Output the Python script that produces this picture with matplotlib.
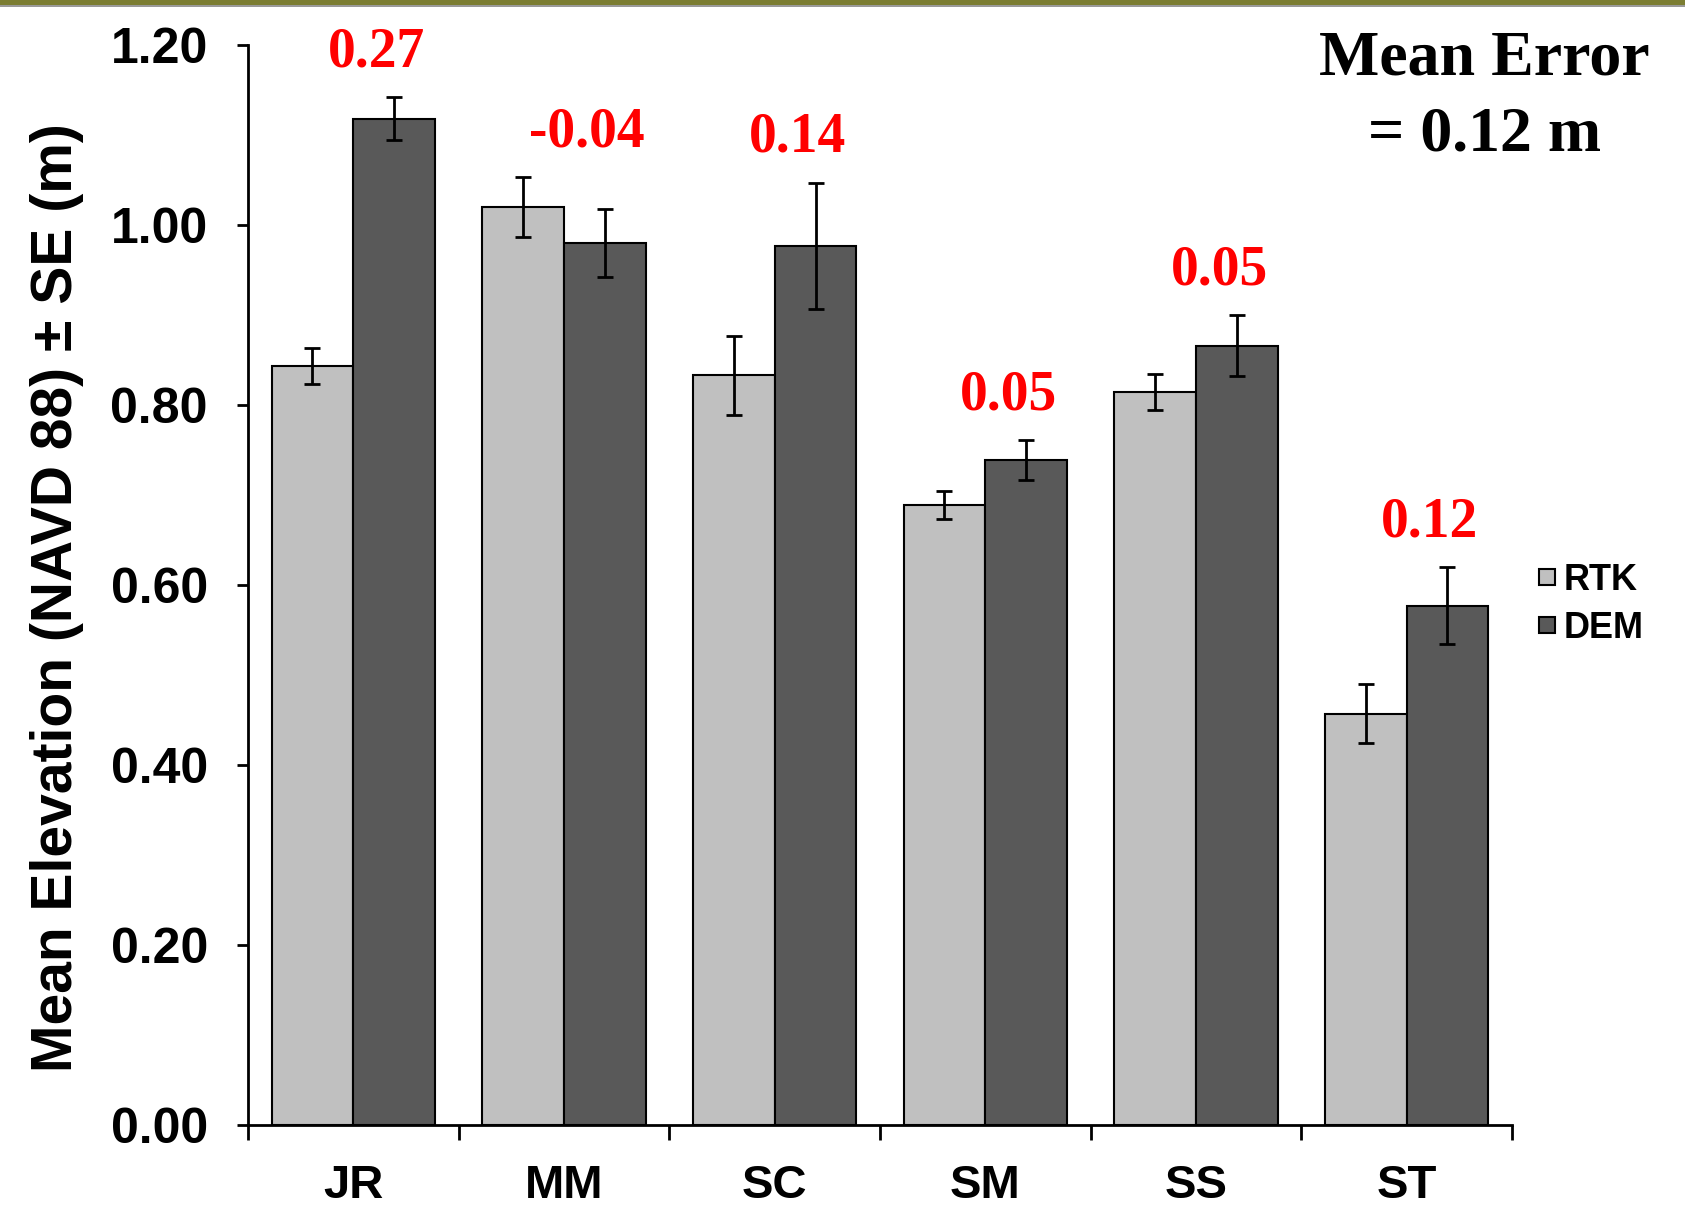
"""
Mean elevation from RTK survey vs. DEM at six marsh sites, with mean error per site.
"""
import numpy as np
import matplotlib
matplotlib.use('Agg')
import matplotlib.pyplot as plt
from matplotlib.patches import Rectangle

sites = ['JR', 'MM', 'SC', 'SM', 'SS', 'ST']
rtk_mean = [0.843, 1.020, 0.833, 0.689, 0.814, 0.457]
rtk_se = [0.020, 0.033, 0.044, 0.016, 0.020, 0.033]
dem_mean = [1.118, 0.980, 0.977, 0.739, 0.866, 0.577]
dem_se = [0.024, 0.038, 0.070, 0.022, 0.034, 0.043]
site_error = ['0.27', '-0.04', '0.14', '0.05', '0.05', '0.12']
yticks = [0.0, 0.2, 0.4, 0.6, 0.8, 1.0, 1.2]

SANS = 'Liberation Sans'
SERIF = 'Liberation Serif'

fig = plt.figure(figsize=(16.85, 12.21), dpi=100)
ax = fig.add_axes([0.1472, 0.0786, 0.7501, 0.8845])

# olive banner strip along the top edge
fig.patches.append(Rectangle((0, 0.9955), 1, 0.0045, transform=fig.transFigure,
                             facecolor='#7b7d32', edgecolor='none'))
fig.patches.append(Rectangle((0, 0.9945), 1, 0.0012, transform=fig.transFigure,
                             facecolor='#9a9a9a', edgecolor='none'))

centers = np.arange(len(sites)) + 0.5
w = 0.388
err_kw = dict(ecolor='black', elinewidth=2, capsize=6, capthick=2)

ax.bar(centers - w / 2, rtk_mean, w, yerr=rtk_se, color='#c0c0c0',
       edgecolor='black', linewidth=1.5, label='RTK', error_kw=err_kw)
ax.bar(centers + w / 2, dem_mean, w, yerr=dem_se, color='#595959',
       edgecolor='black', linewidth=1.5, label='DEM', error_kw=err_kw)

# red mean error label above each site
for i, txt in enumerate(site_error):
    top = max(rtk_mean[i] + rtk_se[i], dem_mean[i] + dem_se[i])
    ax.text(centers[i] + 0.11, top + 0.05, txt, color='red', ha='center',
            va='center', fontsize=40, fontweight='bold', family=SERIF)

ax.set_xlim(0, len(sites))
ax.set_ylim(0, 1.2)
ax.set_yticks(yticks)
ax.set_yticklabels(['%.2f' % v for v in yticks], fontsize=36,
                   fontweight='bold', family=SANS)
ax.set_xticks(np.arange(len(sites) + 1))
ax.set_xticklabels([])
ax.set_xticks(centers, minor=True)
ax.set_xticklabels(sites, minor=True, fontsize=34, fontweight='bold', family=SANS)
ax.tick_params(axis='x', which='major', direction='out', length=11, width=2)
ax.tick_params(axis='x', which='minor', length=0, pad=28)
ax.tick_params(axis='y', direction='out', length=8, width=2, pad=21)

for s in ['top', 'right']:
    ax.spines[s].set_visible(False)
for s in ['left', 'bottom']:
    ax.spines[s].set_linewidth(2)

ax.set_ylabel('Mean Elevation (NAVD 88) ± SE (m)', fontsize=41,
              fontweight='bold', family=SANS)
ax.yaxis.set_label_coords(-0.13, 0.488)

fig.text(0.881, 0.920, 'Mean Error\n= 0.12 m', ha='center', va='center',
         fontsize=46, fontweight='bold', family=SERIF, linespacing=1.42)

ax.legend(loc='center left', bbox_to_anchor=(1.010, 0.482), frameon=False,
          prop={'family': SANS, 'weight': 'bold', 'size': 26},
          handlelength=0.44, handleheight=0.315, handletextpad=0.25,
          labelspacing=0.38, borderaxespad=0)

plt.savefig('out.png', dpi=100)
